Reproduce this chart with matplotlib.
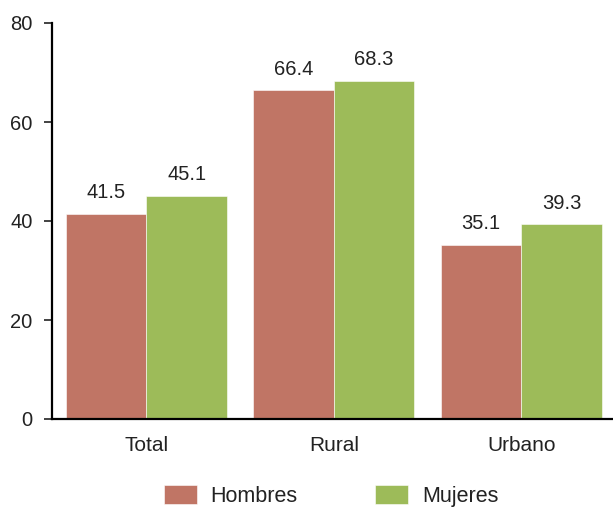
import matplotlib
matplotlib.use("Agg")
import matplotlib.pyplot as plt
import numpy as np

plt.rcParams['font.family'] = ['Liberation Sans', 'DejaVu Sans']

categories = ["Total", "Rural", "Urbano"]
hombres = [41.5, 66.4, 35.1]
mujeres = [45.1, 68.3, 39.3]
yticks = [0, 20, 40, 60, 80]

c_h = "#C07565"
c_m = "#9DBB59"
txt = "#222222"

fig = plt.figure(figsize=(6.13, 5.08), dpi=100)
W, H = 613, 508
ax = fig.add_axes([52 / W, (H - 419) / H, (612 - 52) / W, (419 - 23) / H])

x = np.arange(len(categories))
w = 0.43
b1 = ax.bar(x - w / 2, hombres, w, color=c_h, edgecolor="white", linewidth=0.4, label="Hombres")
b2 = ax.bar(x + w / 2, mujeres, w, color=c_m, edgecolor="white", linewidth=0.4, label="Mujeres")

for bars, vals in ((b1, hombres), (b2, mujeres)):
    for r, v in zip(bars, vals):
        ax.text(r.get_x() + r.get_width() / 2, v + 4.3, f"{v:.1f}",
                ha="center", va="center", fontsize=14.5, color=txt)

ax.set_xlim(-0.503, 2.484)
ax.set_ylim(0, 80)
ax.set_yticks(yticks)
ax.set_xticks(x)
ax.set_xticklabels(categories)
ax.tick_params(axis="y", direction="out", length=6, width=1.2, labelsize=14.5, pad=8, colors=txt)
ax.tick_params(axis="x", length=0, labelsize=15, pad=12, colors=txt)
for s in ("top", "right"):
    ax.spines[s].set_visible(False)
for s in ("left", "bottom"):
    ax.spines[s].set_linewidth(1.6)
    ax.spines[s].set_color("black")

fig.legend(handles=[b1, b2], labels=["Hombres", "Mujeres"], loc="center",
           bbox_to_anchor=(331 / W, 1 - 496 / H), ncol=2, frameon=False,
           fontsize=15.5, handlelength=1.53, handleheight=1.0, columnspacing=3.58,
           handletextpad=0.65, borderpad=0, labelcolor=txt)

fig.savefig("out.png", dpi=100)
